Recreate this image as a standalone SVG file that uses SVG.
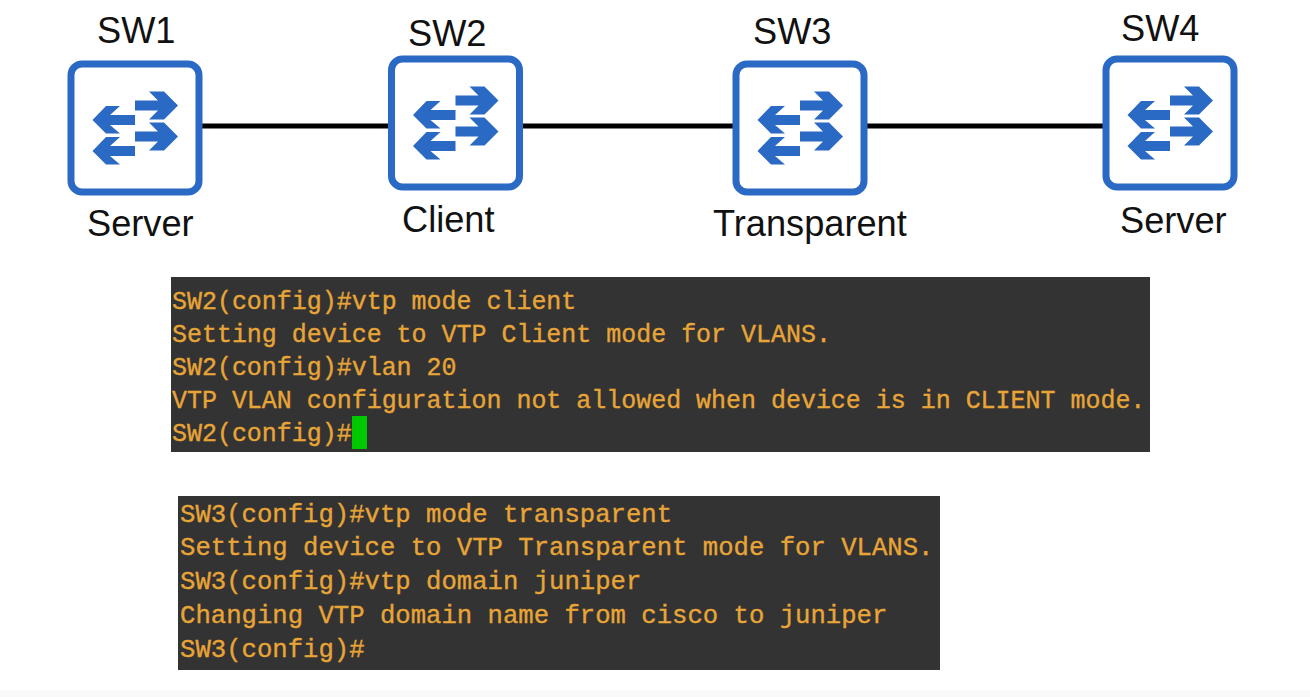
<svg xmlns="http://www.w3.org/2000/svg" width="1310" height="697" viewBox="0 0 1310 697">
<style>
.lbl{font-family:"Liberation Sans",Arial,sans-serif;font-size:36.2px;fill:#111}
.t1,.t2{font-family:"Liberation Mono","DejaVu Sans Mono",monospace;fill:#e8a537;stroke:#e8a537;stroke-width:.35;white-space:pre}
.t1{font-size:24.96px}
.t2{font-size:25.64px}
.term{fill:#333333}
.box{fill:#fff;stroke:#2a69c4;stroke-width:7}
.arr{fill:#2a69c4}
.link{stroke:#000;stroke-width:5;fill:none}
</style>
<defs>
<g id="sw">
<rect class="box" x="3" y="3" width="128" height="128" rx="11"/>
<polygon class="arr" points="67,39.500 90,39.500 81,30.500 96,30.500 110,44.500 96,58.500 81,58.500 90,49.500 67,49.500"/>
<polygon class="arr" points="67,70.500 90,70.500 81,61.500 96,61.500 110,75.500 96,89.500 81,89.500 90,80.500 67,80.500"/>
<polygon class="arr" points="67,54 42,54 52,45 38,45 24.500,59 38,72.500 52,72.500 42,64 67,64"/>
<polygon class="arr" points="67,85 42,85 52,76 38,76 24.500,90 38,103.500 52,103.500 42,95 67,95"/>
</g>
</defs>
<rect width="1310" height="697" fill="#fff"/>
<rect y="690" width="1310" height="7" fill="#f9f9f9"/>
<g id="connectors">
<line class="link" x1="202" y1="126" x2="389" y2="126"/>
<line class="link" x1="522" y1="126" x2="734" y2="126"/>
<line class="link" x1="867" y1="126" x2="1104" y2="126"/>
</g>
<g id="sw1"><use href="#sw" x="68" y="61"/><text class="lbl" x="97" y="43">SW1</text><text class="lbl" x="87" y="236">Server</text></g>
<g id="sw2"><use href="#sw" x="388.500" y="56"/><text class="lbl" x="408" y="46">SW2</text><text class="lbl" x="402" y="232">Client</text></g>
<g id="sw3"><use href="#sw" x="733" y="61"/><text class="lbl" x="753" y="44">SW3</text><text class="lbl" x="713" y="236">Transparent</text></g>
<g id="sw4"><use href="#sw" x="1103" y="56"/><text class="lbl" x="1121" y="41">SW4</text><text class="lbl" x="1120" y="233">Server</text></g>
<g id="terminal1">
<rect class="term" x="171" y="277" width="979" height="175"/>
<text class="t1" x="172" y="309">SW2(config)#vtp mode client</text>
<text class="t1" x="172" y="342">Setting device to VTP Client mode for VLANS.</text>
<text class="t1" x="172" y="375">SW2(config)#vlan 20</text>
<text class="t1" x="172" y="408">VTP VLAN configuration not allowed when device is in CLIENT mode.</text>
<text class="t1" x="172" y="441">SW2(config)#</text>
<rect x="352" y="416" width="15" height="33" fill="#00c800"/>
</g>
<g id="terminal2">
<rect class="term" x="178" y="496" width="762" height="174"/>
<text class="t2" x="180" y="522">SW3(config)#vtp mode transparent</text>
<text class="t2" x="180" y="555">Setting device to VTP Transparent mode for VLANS.</text>
<text class="t2" x="180" y="589">SW3(config)#vtp domain juniper</text>
<text class="t2" x="180" y="623">Changing VTP domain name from cisco to juniper</text>
<text class="t2" x="180" y="657">SW3(config)#</text>
</g>
</svg>
